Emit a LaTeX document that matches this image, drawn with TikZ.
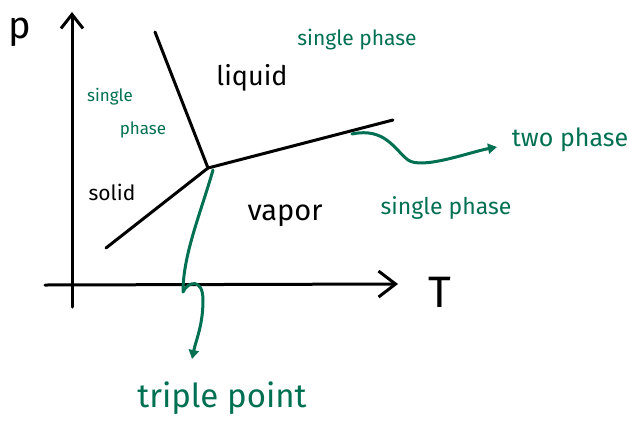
\documentclass[tikz,border=0pt]{standalone}
\usepackage{fontspec}
\setmainfont{Fira Sans}
\usetikzlibrary{arrows.meta}
\definecolor{penGreen}{RGB}{0,112,82}
\tikzset{
  x=1pt,y=-1pt,
  ink/.style={line width=3pt,line cap=round,line join=round,black},
  axis/.style={ink,-{Straight Barb[length=14pt,width=22pt,line width=3pt]}},
  taxis/.style={ink,-{Straight Barb[length=17pt,width=26pt,line width=3pt]}},
  gpen/.style={line width=3pt,line cap=round,line join=round,penGreen,-{Triangle[length=9pt,width=10pt]}},
  blabel/.style={inner sep=0pt,black},
  glabel/.style={inner sep=0pt,text=penGreen},
}
\newcommand{\fs}[1]{\fontsize{#1}{#1}\selectfont}
\begin{document}
\begin{tikzpicture}
\useasboundingbox (0,0) rectangle (629,432);
% coordinates
\coordinate (pbot) at (72,307);
\coordinate (ptop) at (72,12);
\coordinate (tleft) at (45,285);
\coordinate (tright) at (398,284);
\coordinate (tp) at (208,168);
\coordinate (fus) at (155,32);
\coordinate (vap) at (393,120);
\coordinate (sub) at (106,248);
\coordinate (tpstart) at (213,170);
\coordinate (tpend) at (192,359);
\coordinate (twostart) at (352,134);
\coordinate (twoend) at (497,147);
% axes
\draw[axis] (pbot) -- (ptop);
\draw[taxis] (tleft) -- (tright);
% phase boundaries
\draw[ink] (fus) -- (tp) -- (vap);
\draw[ink] (tp) -- (sub);
% green arrows
\draw[gpen] (tpstart) .. controls (200,215) and (183,255) .. (183,292)
  .. controls (188,281) and (203,278) .. (203,300)
  .. controls (203,325) and (196,340) .. (tpend);
\draw[gpen] (twostart) .. controls (385,127) and (395,150) .. (408,160)
  .. controls (422,170) and (470,152) .. (twoend);
% labels
\node[blabel] (plab) at (20,32) {\fs{38}p};
\node[blabel] (tlab) at (440,292) {\fs{44}T};
\node[blabel] (liquid) at (252,78) {\fs{27}liquid};
\node[blabel] (solid) at (112,192) {\fs{21}solid};
\node[blabel] (vapor) at (285,216) {\fs{29}vapor};
\node[glabel] (sptop) at (357,40) {\fs{21}single phase};
\node[glabel] (spright) at (446,208) {\fs{23}single phase};
\node[glabel] (twophase) at (570,140) {\fs{25}two phase};
\node[glabel] (spl1) at (110,97) {\fs{17}single};
\node[glabel] (spl2) at (143,130) {\fs{17}phase};
\node[glabel] (triple) at (222,398) {\fs{33}triple point};
\end{tikzpicture}
\end{document}
